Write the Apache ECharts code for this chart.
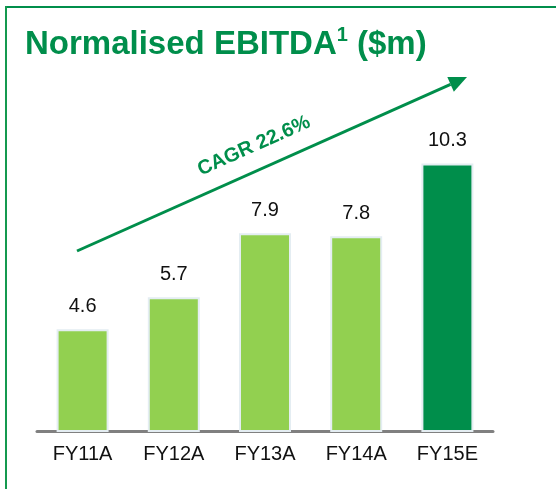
<!DOCTYPE html>
<html>
<head>
<meta charset="utf-8">
<script src="https://cdn.jsdelivr.net/npm/echarts@6/dist/echarts.min.js"></script>
<style>
  html, body { margin: 0; padding: 0; background: #fff; }
  #chart { width: 556px; height: 489px; }
</style>
</head>
<body>
<div id="chart"></div>
<script>
// 数据
const categories = ["FY11A", "FY12A", "FY13A", "FY14A", "FY15E"];
const ebitda = [4.6, 5.7, 7.9, 7.8, 10.3];
const barColors = ["#92d050", "#92d050", "#92d050", "#92d050", "#008e4b"];
const cagrText = "CAGR 22.6%";

const green = "#008e4b";
const font = "Liberation Sans, Arial, sans-serif";

// 箭头（注释用，像素坐标）
const arrowStart = [77, 251];
const arrowTip = [467, 77];
const dx = arrowTip[0] - arrowStart[0];
const dy = arrowTip[1] - arrowStart[1];
const len = Math.sqrt(dx * dx + dy * dy);
const ux = dx / len, uy = dy / len;
const headLen = 18, headHalf = 8;
const baseX = arrowTip[0] - ux * headLen;
const baseY = arrowTip[1] - uy * headLen;
const angle = Math.atan2(-dy, dx);

const chart = echarts.init(document.getElementById("chart"));
const option = {
  animation: false,
  title: {
    text: "{a|Normalised EBITDA}{s|1}{a| ($m)}",
    left: 20,
    top: 20,
    textStyle: {
      rich: {
        a: { fontSize: 33, fontWeight: "bold", color: green, fontFamily: font, lineHeight: 40 },
        s: { fontSize: 20, fontWeight: "bold", color: green, fontFamily: font, lineHeight: 22, verticalAlign: "top" },
      },
    },
  },
  grid: { left: 37, right: 63, top: 114, bottom: 58 },
  xAxis: {
    type: "category",
    data: categories,
    axisLine: { lineStyle: { color: "#808080", width: 3 } },
    axisTick: { show: false },
    axisLabel: { color: "#111", fontSize: 20, fontFamily: font, margin: 13 },
  },
  yAxis: {
    type: "value",
    min: 1.1,
    max: 12,
    show: false,
  },
  series: [
    {
      type: "bar",
      barWidth: 52,
      data: ebitda.map((v, i) => ({
        value: v,
        itemStyle: { color: barColors[i] },
      })),
      itemStyle: { borderColor: "#e4edf2", borderWidth: 2 },
      label: {
        show: true,
        position: "top",
        distance: 13,
        color: "#111",
        fontSize: 20,
        fontFamily: font,
      },
    },
  ],
  graphic: [
    // 边框
    { type: "line", shape: { x1: 6, y1: 7, x2: 556, y2: 7 }, style: { stroke: green, lineWidth: 2 } },
    { type: "line", shape: { x1: 6, y1: 6, x2: 6, y2: 489 }, style: { stroke: "#14994f", lineWidth: 2 } },
    // 箭头
    {
      type: "line",
      shape: { x1: arrowStart[0], y1: arrowStart[1], x2: baseX, y2: baseY },
      style: { stroke: green, lineWidth: 3 },
    },
    {
      type: "polygon",
      shape: {
        points: [
          arrowTip,
          [baseX - uy * headHalf, baseY + ux * headHalf],
          [baseX + uy * headHalf, baseY - ux * headHalf],
        ],
      },
      style: { fill: green },
    },
    {
      type: "text",
      x: 254,
      y: 146,
      rotation: angle,
      style: {
        text: cagrText,
        fill: green,
        font: "bold 20px " + font,
        align: "center",
        verticalAlign: "middle",
      },
    },
  ],
};
chart.setOption(option);
</script>
</body>
</html>
